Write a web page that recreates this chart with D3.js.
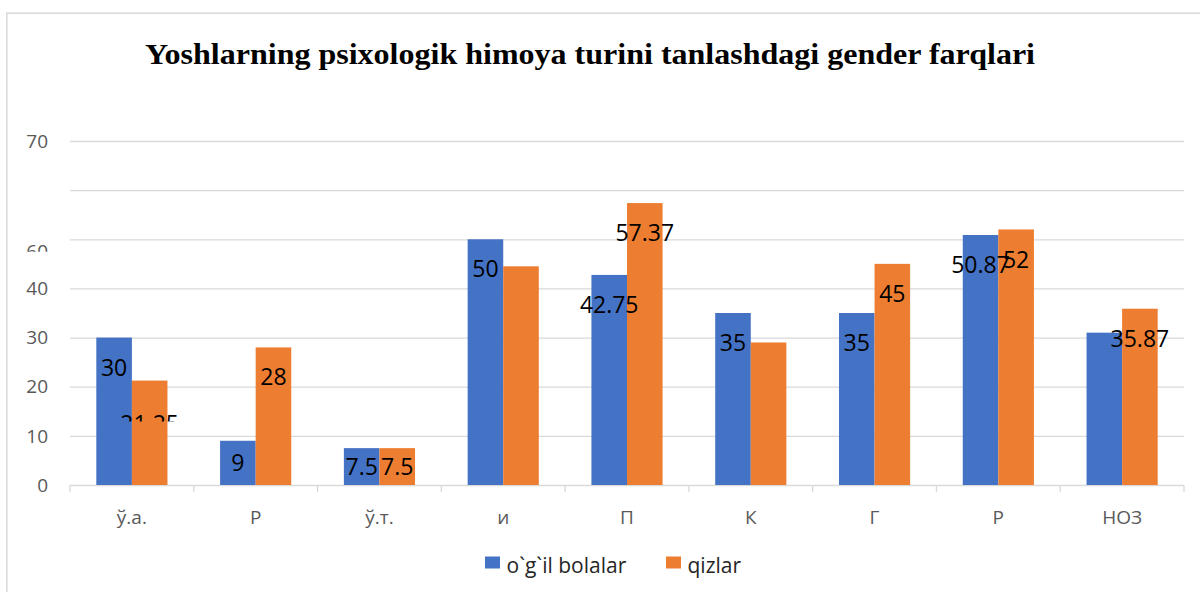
<!DOCTYPE html>
<html>
<head>
<meta charset="utf-8">
<script src="https://cdn.jsdelivr.net/npm/d3@7"></script>
<style>
  body { margin: 0; background: #fff; }
  svg { display: block; }
</style>
</head>
<body>
<svg id="chart"></svg>
<script>
// chart data
const categories = ['ў.а.', 'Р', 'ў.т.', 'и', 'П', 'К', 'Г', 'Р', 'НОЗ'];
const seriesNames = ['o`g`il bolalar', 'qizlar'];
const boys = [30, 9, 7.5, 50, 42.75, 35, 35, 50.87, 31];
const girls = [21.25, 28, 7.5, 44.5, 57.37, 29, 45, 52, 35.87];
const boysLabels = ['30', '9', '7.5', '50', '42.75', '35', '35', '50.87', null];
const girlsLabels = ['21.25', '28', '7.5', null, '57.37', null, '45', '52', '35.87'];
const yTickValues = [0, 10, 20, 30, 40, 50, 60, 70];
const yTickLabels = ['0', '10', '20', '30', '40', '60', '', '70'];
const titleText = 'Yoshlarning psixologik himoya turini tanlashdagi gender farqlari';

class GroupedBarChart {
  constructor(_config) {
    this.config = {
      parentElement: _config.parentElement,
      containerWidth: 1200,
      containerHeight: 592,
      plot: { left: 70, right: 1184, top: 141, bottom: 485 },
      colors: ['#4472C4', '#ED7D31'],
      gridColor: '#d9d9d9',
      axisTextColor: '#595959',
    };
    this.initVis();
  }

  initVis() {
    const vis = this;
    const c = vis.config;

    vis.svg = d3.select(c.parentElement)
      .attr('width', c.containerWidth)
      .attr('height', c.containerHeight);

    vis.svg.append('rect')
      .attr('width', c.containerWidth)
      .attr('height', c.containerHeight)
      .attr('fill', '#fff');

    // chart area outline (only left/top visible in crop)
    vis.svg.append('rect')
      .attr('x', 6.8)
      .attr('y', 13.2)
      .attr('width', c.containerWidth + 20)
      .attr('height', c.containerHeight + 20)
      .attr('fill', 'none')
      .attr('stroke', c.gridColor)
      .attr('stroke-width', 1.5);

    vis.defs = vis.svg.append('defs');

    vis.xScale = d3.scaleBand()
      .domain(d3.range(categories.length))
      .range([c.plot.left, c.plot.right]);

    vis.xInner = d3.scaleBand()
      .domain(seriesNames)
      .range([0, vis.xScale.bandwidth()])
      .paddingInner(0)
      .paddingOuter(0.74);

    vis.yScale = d3.scaleLinear()
      .domain([0, 70])
      .range([c.plot.bottom, c.plot.top]);

    vis.chart = vis.svg.append('g');

    vis.renderVis();
  }

  clippedText(sel, id, clipY) {
    const vis = this;
    vis.defs.append('clipPath')
      .attr('id', id)
      .append('rect')
      .attr('x', 0)
      .attr('y', 0)
      .attr('width', 1200)
      .attr('height', clipY);
    sel.attr('clip-path', `url(#${id})`);
  }

  renderVis() {
    const vis = this;
    const c = vis.config;

    // title
    vis.svg.append('text')
      .attr('x', 590)
      .attr('y', 64)
      .attr('text-anchor', 'middle')
      .attr('font-family', '"Liberation Serif", "Times New Roman", serif')
      .attr('font-weight', 'bold')
      .attr('font-size', 30)
      .attr('textLength', 890)
      .attr('lengthAdjust', 'spacingAndGlyphs')
      .attr('fill', '#000')
      .text(titleText);

    // gridlines
    vis.chart.append('g')
      .selectAll('line')
      .data(yTickValues)
      .join('line')
      .attr('x1', c.plot.left)
      .attr('x2', c.plot.right)
      .attr('y1', (d) => vis.yScale(d) + 0.5)
      .attr('y2', (d) => vis.yScale(d) + 0.5)
      .attr('stroke', c.gridColor)
      .attr('stroke-width', 1.3);

    // y tick labels
    const yLabels = vis.chart.append('g')
      .selectAll('text')
      .data(yTickValues)
      .join('text')
      .attr('x', 48)
      .attr('y', (d) => vis.yScale(d))
      .attr('dy', '0.35em')
      .attr('text-anchor', 'end')
      .attr('font-family', '"Open Sans", sans-serif')
      .attr('font-size', 19)
      .attr('fill', c.axisTextColor)
      .text((d, i) => yTickLabels[i]);

    // the "60" label is pushed down and cut off in the source
    yLabels.filter((d) => d === 50)
      .attr('y', vis.yScale(50) + 12)
      .call((s) => vis.clippedText(s, 'clipY60', vis.yScale(50) + 12.5));

    // bars
    const seriesValues = [boys, girls];
    const seriesLabels = [boysLabels, girlsLabels];
    const barData = [];
    seriesNames.forEach((name, si) => {
      categories.forEach((cat, ci) => {
        barData.push({
          series: name, si, ci, value: seriesValues[si][ci], label: seriesLabels[si][ci],
        });
      });
    });

    vis.chart.append('g')
      .selectAll('rect')
      .data(barData)
      .join('rect')
      .attr('x', (d) => vis.xScale(d.ci) + vis.xInner(d.series))
      .attr('y', (d) => vis.yScale(d.value))
      .attr('width', vis.xInner.bandwidth())
      .attr('height', (d) => vis.yScale(0) - vis.yScale(d.value))
      .attr('fill', (d) => c.colors[d.si]);

    // x axis ticks
    const x0 = vis.yScale(0);
    vis.chart.append('g')
      .selectAll('line')
      .data(d3.range(categories.length + 1))
      .join('line')
      .attr('x1', (d) => c.plot.left + d * vis.xScale.step())
      .attr('x2', (d) => c.plot.left + d * vis.xScale.step())
      .attr('y1', x0)
      .attr('y2', x0 + 7)
      .attr('stroke', c.gridColor)
      .attr('stroke-width', 1.3);

    vis.chart.append('g')
      .selectAll('text')
      .data(categories)
      .join('text')
      .attr('x', (d, i) => vis.xScale(i) + vis.xScale.bandwidth() / 2)
      .attr('y', 517)
      .attr('dy', '0.35em')
      .attr('text-anchor', 'middle')
      .attr('font-family', '"Open Sans", sans-serif')
      .attr('font-size', 19)
      .attr('fill', c.axisTextColor)
      .text((d) => d);

    // data labels
    const labelled = barData.filter((d) => d.label !== null);
    const labels = vis.chart.append('g')
      .selectAll('text')
      .data(labelled)
      .join('text')
      .attr('x', (d) => vis.xScale(d.ci) + vis.xInner(d.series) + vis.xInner.bandwidth() / 2)
      .attr('y', (d) => {
        const h = vis.yScale(0) - vis.yScale(d.value);
        return vis.yScale(d.value) + Math.min(30, h / 2);
      })
      .attr('dy', '0.35em')
      .attr('text-anchor', 'middle')
      .attr('font-family', '"Open Sans", sans-serif')
      .attr('font-size', 23)
      .attr('fill', '#000')
      .text((d) => d.label);

    // first orange label is also cut off in the source
    labels.filter((d) => d.si === 1 && d.ci === 0)
      .each(function (d) {
        const cy = vis.yScale(d.value) + 30 + 13;
        d3.select(this).attr('y', cy);
        vis.clippedText(d3.select(this), 'clipLbl', cy - 2);
      });

    // legend
    const legend = vis.svg.append('g');
    const legendX = [485, 666];
    seriesNames.forEach((name, i) => {
      legend.append('rect')
        .attr('x', legendX[i])
        .attr('y', 556.5)
        .attr('width', 15)
        .attr('height', 12)
        .attr('fill', c.colors[i]);
      legend.append('text')
        .attr('x', legendX[i] + 21.5)
        .attr('y', 573)
        .attr('font-family', '"Open Sans", sans-serif')
        .attr('font-size', 21)
        .attr('fill', '#262626')
        .text(name);
    });
  }
}

const chart = new GroupedBarChart({ parentElement: '#chart' });
</script>
</body>
</html>
